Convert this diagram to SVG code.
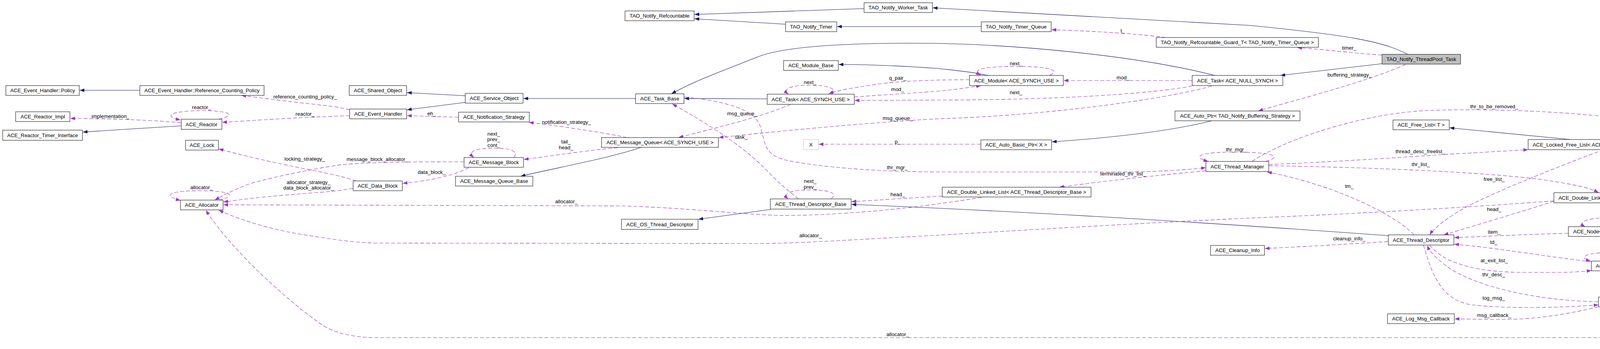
<svg xmlns="http://www.w3.org/2000/svg" width="4827" height="893" viewBox="0 0 4827 893">
<style>
.node rect{fill:#ffffff;stroke:#000000;stroke-width:1}
.node text,.lbl{font-family:"Liberation Sans",Arial,sans-serif;font-size:13.3px;fill:#000000;text-anchor:middle}
.inh{fill:none;stroke:#191970;stroke-width:1.1;marker-end:url(#ah)}
.use{fill:none;stroke:#9a32cd;stroke-width:1.1;stroke-dasharray:10,5;marker-end:url(#au)}
</style>
<defs>
<marker id="ah" viewBox="0 0 12 9" refX="12" refY="4.5" markerWidth="12" markerHeight="9" orient="auto" markerUnits="userSpaceOnUse"><path d="M0,0 L12,4.5 L0,9 z" fill="#191970"/></marker>
<marker id="au" viewBox="0 0 12 9" refX="12" refY="4.5" markerWidth="12" markerHeight="9" orient="auto" markerUnits="userSpaceOnUse"><path d="M0,0 L12,4.5 L0,9 z" fill="#9a32cd"/></marker>
</defs>
<rect width="4827" height="893" fill="#ffffff"/>
<g id="edges">
<path class="inh" d="M358,231 L204,231"/>
<path class="inh" d="M464,322 C400,326 300,332 212,338"/>
<path class="inh" d="M1191,245 L1042,237"/>
<path class="inh" d="M1191,262 L1042,281"/>
<path class="inh" d="M1627,252 L1340,252"/>
<path class="inh" d="M1964,253 L1752,252"/>
<path class="inh" d="M3110,193 C2900,140 2600,115 2400,111 C2150,108 2000,120 1936,147 C1880,170 1780,205 1719,240"/>
<path class="inh" d="M2529,193 C2480,182 2420,178 2400,175 C2300,168 2230,165 2147,165"/>
<path class="inh" d="M1641,377 C1560,405 1420,430 1333,451"/>
<path class="inh" d="M1972,536 L1788,561"/>
<path class="inh" d="M3554,603 C3100,570 2600,540 2180,523"/>
<path class="inh" d="M3102,309 C3000,335 2850,352 2693,363"/>
<path class="inh" d="M3538,163 L3278,193"/>
<path class="inh" d="M3603,139 C3540,105 3450,90 3200,65 L2388,20"/>
<path class="inh" d="M2512,68 L2143,68"/>
<path class="inh" d="M2212,22 L1778,37"/>
<path class="inh" d="M2011,62 L1778,48"/>
<path class="inh" d="M4020,357 L3711,327"/>

<path class="use" d="M896,281 C860,272 830,270 806,267 C760,262 700,255 618,244"/>
<path class="use" d="M895,296 C800,299 680,306 569,313"/>
<path class="use" d="M464,314 C400,308 300,304 180,303"/>
<path class="use" d="M560,305 C600,296 600,284 516,283 C432,284 418,298 462,307"/>
<path class="use" d="M1174,300 L1042,296"/>
<path class="use" d="M1605,352 C1550,340 1450,325 1354,313"/>
<path class="use" d="M1582,378 C1500,385 1420,398 1341,408"/>
<path class="use" d="M1315,403 C1325,392 1320,379 1265,379 C1210,379 1198,390 1213,403"/>
<path class="use" d="M1188,414 C1050,414 900,415 850,425 C760,440 680,458 640,470 C600,485 570,500 550,512"/>
<path class="use" d="M912,463 C880,452 840,444 806,437 C720,420 640,403 560,381"/>
<path class="use" d="M1200,429 C1180,440 1130,460 1031,469"/>
<path class="use" d="M904,482 C860,490 820,492 806,493 C720,500 650,505 572,517"/>
<path class="use" d="M2513,505 C2450,515 2350,530 2270,537 C2180,546 2050,553 1987,551 C1900,548 1750,532 1600,527 L572,524"/>
<path class="use" d="M3978,514 C3700,535 3400,550 3200,558 C2900,572 2600,590 2400,602 C2200,612 2050,623 1936,623 L960,622 C900,620 850,612 800,604 C700,590 620,565 560,538"/>
<path class="use" d="M4630,606 C4560,720 4420,850 4160,864 L960,864 C880,862 840,845 806,818 C740,770 600,650 527,538"/>
<path class="use" d="M560,512 C600,503 605,489 515,488 C430,488 415,500 462,513"/>
<path class="use" d="M2024,267 C1950,300 1820,330 1737,352"/>
<path class="use" d="M2128,241 C2145,232 2130,218 2075,218 C2015,218 2005,230 2018,241"/>
<path class="use" d="M2482,204 C2400,204 2300,207 2250,215 C2180,225 2140,232 2122,240"/>
<path class="use" d="M2187,248 C2300,240 2400,235 2450,228 C2480,224 2500,221 2511,219"/>
<path class="use" d="M2687,193 C2715,180 2690,170 2600,170 C2500,170 2490,182 2511,192"/>
<path class="use" d="M3052,206 L2723,206"/>
<path class="use" d="M3052,220 C2950,240 2700,256 2400,256 L2188,257"/>
<path class="use" d="M3102,220 C3000,250 2700,295 2400,304 C2200,315 1950,340 1840,352"/>
<path class="use" d="M1752,248 C1880,262 1930,285 1945,320 C1960,360 1950,395 2013,410 C2100,428 2250,440 2410,440 L2900,440 C3000,438 3050,433 3087,429"/>
<path class="use" d="M3240,413 C3280,402 3270,390 3165,389 C3060,389 3055,403 3093,413"/>
<path class="use" d="M3087,437 C3000,445 2850,460 2712,479"/>
<path class="use" d="M3205,413 C3300,350 3500,290 3650,283 C3850,275 4150,290 4300,330 C4450,380 4560,470 4632,580"/>
<path class="use" d="M3248,421 C3400,415 3600,402 3700,395 C3800,390 3870,385 3912,383"/>
<path class="use" d="M3248,424 C3500,428 3800,440 3950,460 C4030,472 4070,480 4092,493"/>
<path class="use" d="M3620,601 C3560,540 3400,470 3244,440"/>
<path class="use" d="M4105,383 C4020,415 3850,480 3753,530 C3700,560 3670,585 3660,601"/>
<path class="use" d="M3978,515 C3900,540 3800,570 3696,601"/>
<path class="use" d="M4015,597 C3900,600 3800,605 3723,608"/>
<path class="use" d="M4232,580 C4255,567 4240,556 4148,556 C4050,556 4040,570 4058,580"/>
<path class="use" d="M4470,593 L4283,593"/>
<path class="use" d="M4074,670 C3950,655 3800,630 3723,625"/>
<path class="use" d="M4226,668 C4255,658 4245,645 4148,645 C4050,645 4040,660 4072,668"/>
<path class="use" d="M3660,627 C3700,680 3800,697 3900,697 L4000,697 C4040,696 4060,694 4074,692"/>
<path class="use" d="M4092,772 C3950,770 3800,740 3716,690 C3680,665 3660,645 3654,628"/>
<path class="use" d="M3644,627 C3670,720 3700,770 3768,780 C3850,790 4000,788 4092,780"/>
<path class="use" d="M4092,785 C4030,800 3950,815 3871,817 C3800,818 3760,816 3724,816"/>
<path class="use" d="M3554,618 C3450,625 3350,630 3238,636"/>
<path class="use" d="M2412,502 C2350,505 2250,512 2180,516"/>
<path class="use" d="M2127,509 C2145,496 2130,486 2074,486 C2015,486 2005,498 2018,509"/>
<path class="use" d="M2044,509 C2020,490 1990,465 1967,440 C1900,370 1800,310 1721,266"/>
<path class="use" d="M2511,369 L2096,369"/>
<path class="use" d="M3598,165 C3500,210 3300,260 3221,284"/>
<path class="use" d="M3538,141 C3450,135 3380,125 3321,122"/>
<path class="use" d="M2984,96 C2900,85 2800,80 2692,76"/>

<text class="lbl" x="781" y="252">reference_counting_policy_</text>
<text class="lbl" x="781" y="296">reactor_</text>
<text class="lbl" x="283" y="302">implementation_</text>
<text class="lbl" x="516" y="279">reactor_</text>
<text class="lbl" x="516" y="484">allocator_</text>
<text class="lbl" x="1105" y="295">eh_</text>
<text class="lbl" x="1450" y="317">notification_strategy_</text>
<text class="lbl" x="1449" y="367">tail_</text>
<text class="lbl" x="1449" y="382">head_</text>
<text class="lbl" x="1264" y="347">next_</text>
<text class="lbl" x="1264" y="361">prev_</text>
<text class="lbl" x="1264" y="376">cont_</text>
<text class="lbl" x="1105" y="445">data_block_</text>
<text class="lbl" x="966" y="412">message_block_allocator_</text>
<text class="lbl" x="780" y="411">locking_strategy_</text>
<text class="lbl" x="790" y="471">allocator_strategy_</text>
<text class="lbl" x="790" y="485">data_block_allocator_</text>
<text class="lbl" x="1450" y="520">allocator_</text>
<text class="lbl" x="2075" y="607">allocator_</text>
<text class="lbl" x="2298" y="860">allocator_</text>
<text class="lbl" x="1900" y="295">msg_queue_</text>
<text class="lbl" x="1898" y="355">task_</text>
<text class="lbl" x="2074" y="215">next_</text>
<text class="lbl" x="2298" y="204">q_pair_</text>
<text class="lbl" x="2298" y="233">mod_</text>
<text class="lbl" x="2298" y="307">msg_queue_</text>
<text class="lbl" x="2298" y="367">p_</text>
<text class="lbl" x="2297" y="433">thr_mgr_</text>
<text class="lbl" x="2874" y="83">t_</text>
<text class="lbl" x="2601" y="167">next_</text>
<text class="lbl" x="2875" y="203">mod_</text>
<text class="lbl" x="2601" y="241">next_</text>
<text class="lbl" x="3165" y="387">thr_mgr_</text>
<text class="lbl" x="2875" y="449">terminated_thr_list_</text>
<text class="lbl" x="3454" y="127">timer_</text>
<text class="lbl" x="3455" y="196">buffering_strategy_</text>
<text class="lbl" x="3825" y="277">thr_to_be_removed_</text>
<text class="lbl" x="3636" y="392">thread_desc_freelist_</text>
<text class="lbl" x="3637" y="425">thr_list_</text>
<text class="lbl" x="3454" y="481">tm_</text>
<text class="lbl" x="3825" y="463">free_list_</text>
<text class="lbl" x="3825" y="540">head_</text>
<text class="lbl" x="3825" y="598">item_</text>
<text class="lbl" x="3824" y="624">td_</text>
<text class="lbl" x="3454" y="615">cleanup_info_</text>
<text class="lbl" x="3825" y="671">at_exit_list_</text>
<text class="lbl" x="3824" y="707">thr_desc_</text>
<text class="lbl" x="3824" y="767">log_msg_</text>
<text class="lbl" x="3825" y="811">msg_callback_</text>
<text class="lbl" x="4148" y="552">next_</text>
<text class="lbl" x="4426" y="588">head_</text>
<text class="lbl" x="4148" y="640">next_</text>
<text class="lbl" x="2074" y="468">next_</text>
<text class="lbl" x="2074" y="483">prev_</text>
<text class="lbl" x="2298" y="502">head_</text>
</g>

<g id="n1" class="node"><rect x="15" y="219" width="188" height="25"/><text x="109" y="236">ACE_Event_Handler::Policy</text></g>
<g id="n2" class="node"><rect x="358" y="219" width="318" height="25"/><text x="517" y="236">ACE_Event_Handler::Reference_Counting_Policy</text></g>
<g id="n3" class="node"><rect x="40" y="286" width="139" height="25"/><text x="109.5" y="303">ACE_Reactor_Impl</text></g>
<g id="n4" class="node"><rect x="464" y="305" width="104" height="26"/><text x="516" y="322.5">ACE_Reactor</text></g>
<g id="n5" class="node"><rect x="7" y="333" width="204" height="26"/><text x="109" y="350.5">ACE_Reactor_Timer_Interface</text></g>
<g id="n6" class="node"><rect x="475" y="359" width="84" height="25"/><text x="517" y="376">ACE_Lock</text></g>
<g id="n7" class="node"><rect x="462" y="512" width="109" height="25"/><text x="516.5" y="529">ACE_Allocator</text></g>
<g id="n8" class="node"><rect x="894" y="219" width="147" height="25"/><text x="967.5" y="236">ACE_Shared_Object</text></g>
<g id="n9" class="node"><rect x="1191" y="239" width="148" height="25"/><text x="1265" y="256">ACE_Service_Object</text></g>
<g id="n10" class="node"><rect x="895" y="279" width="146" height="25"/><text x="968" y="296">ACE_Event_Handler</text></g>
<g id="n11" class="node"><rect x="1174" y="287" width="181" height="25"/><text x="1264.5" y="304">ACE_Notification_Strategy</text></g>
<g id="n12" class="node"><rect x="1188" y="403" width="152" height="25"/><text x="1264" y="420">ACE_Message_Block</text></g>
<g id="n13" class="node"><rect x="904" y="463" width="126" height="25"/><text x="967" y="480">ACE_Data_Block</text></g>
<g id="n14" class="node"><rect x="1166" y="451" width="198" height="25"/><text x="1265" y="468">ACE_Message_Queue_Base</text></g>
<g id="n15" class="node"><rect x="1540" y="352" width="299" height="25"/><text x="1689.5" y="369">ACE_Message_Queue&lt; ACE_SYNCH_USE &gt;</text></g>
<g id="n16" class="node"><rect x="1600" y="28" width="177" height="25"/><text x="1688.5" y="45">TAO_Notify_Refcountable</text></g>
<g id="n17" class="node"><rect x="2212" y="7" width="175" height="25"/><text x="2299.5" y="24">TAO_Notify_Worker_Task</text></g>
<g id="n18" class="node"><rect x="2011" y="56" width="131" height="25"/><text x="2076.5" y="73">TAO_Notify_Timer</text></g>
<g id="n19" class="node"><rect x="2006" y="155" width="140" height="25"/><text x="2076" y="172">ACE_Module_Base</text></g>
<g id="n20" class="node"><rect x="1627" y="240" width="124" height="25"/><text x="1689" y="257">ACE_Task_Base</text></g>
<g id="n21" class="node"><rect x="1964" y="241" width="223" height="26"/><text x="2075.5" y="258.5">ACE_Task&lt; ACE_SYNCH_USE &gt;</text></g>
<g id="n22" class="node"><rect x="2057" y="357" width="38" height="26" style="stroke:#bfbfbf"/><text x="2076" y="374.5">X</text></g>
<g id="n23" class="node"><rect x="1591" y="561" width="196" height="26"/><text x="1689" y="578.5">ACE_OS_Thread_Descriptor</text></g>
<g id="n24" class="node"><rect x="1972" y="509" width="207" height="26"/><text x="2075.5" y="526.5">ACE_Thread_Descriptor_Base</text></g>
<g id="n25" class="node"><rect x="2512" y="56" width="179" height="25"/><text x="2601.5" y="73">TAO_Notify_Timer_Queue</text></g>
<g id="n26" class="node"><rect x="2960" y="96" width="415" height="25"/><text x="3167.5" y="113">TAO_Notify_Refcountable_Guard_T&lt; TAO_Notify_Timer_Queue &gt;</text></g>
<g id="n27" class="node"><rect x="2482" y="193" width="240" height="26"/><text x="2602" y="210.5">ACE_Module&lt; ACE_SYNCH_USE &gt;</text></g>
<g id="n28" class="node"><rect x="3052" y="193" width="232" height="26"/><text x="3168" y="210.5">ACE_Task&lt; ACE_NULL_SYNCH &gt;</text></g>
<g id="n29" class="node"><rect x="3008" y="284" width="320" height="25"/><text x="3168" y="301">ACE_Auto_Ptr&lt; TAO_Notify_Buffering_Strategy &gt;</text></g>
<g id="n30" class="node"><rect x="2511" y="358" width="181" height="25"/><text x="2601.5" y="375">ACE_Auto_Basic_Ptr&lt; X &gt;</text></g>
<g id="n31" class="node"><rect x="3087" y="413" width="161" height="26"/><text x="3167.5" y="430.5">ACE_Thread_Manager</text></g>
<g id="n32" class="node"><rect x="2412" y="479" width="381" height="25"/><text x="2602.5" y="496">ACE_Double_Linked_List&lt; ACE_Thread_Descriptor_Base &gt;</text></g>
<g id="n33" class="node"><rect x="3099" y="628" width="138" height="25"/><text x="3168" y="645">ACE_Cleanup_Info</text></g>
<g id="n34" class="node"><rect x="3538" y="139" width="201" height="25" style="fill:#bfbfbf"/><text x="3638.5" y="156">TAO_Notify_ThreadPool_Task</text></g>
<g id="n35" class="node"><rect x="3566" y="307" width="144" height="25"/><text x="3638" y="324">ACE_Free_List&lt; T &gt;</text></g>
<g id="n36" class="node"><rect x="3912" y="357" width="472" height="26"/><text x="4148" y="374.5">ACE_Locked_Free_List&lt; ACE_Thread_Descriptor, ACE_SYNCH_MUTEX &gt;</text></g>
<g id="n37" class="node"><rect x="3554" y="601" width="168" height="26"/><text x="3638" y="618.5">ACE_Thread_Descriptor</text></g>
<g id="n38" class="node"><rect x="3552" y="803" width="171" height="25"/><text x="3637.5" y="820">ACE_Log_Msg_Callback</text></g>
<g id="n39" class="node"><rect x="3978" y="493" width="342" height="26"/><text x="4149" y="510.5">ACE_Double_Linked_List&lt; ACE_Thread_Descriptor &gt;</text></g>
<g id="n40" class="node"><rect x="4015" y="580" width="267" height="25"/><text x="4148.5" y="597">ACE_Node&lt; ACE_Thread_Descriptor * &gt;</text></g>
<g id="n41" class="node"><rect x="4470" y="580" width="351" height="25"/><text x="4645.5" y="597">ACE_Unbounded_Queue&lt; ACE_Thread_Descriptor * &gt;</text></g>
<g id="n42" class="node"><rect x="4074" y="668" width="149" height="25"/><text x="4148.5" y="685">ACE_At_Thread_Exit</text></g>
<g id="n43" class="node"><rect x="4092" y="760" width="114" height="25"/><text x="4149" y="777">ACE_Log_Msg</text></g>
</svg>
